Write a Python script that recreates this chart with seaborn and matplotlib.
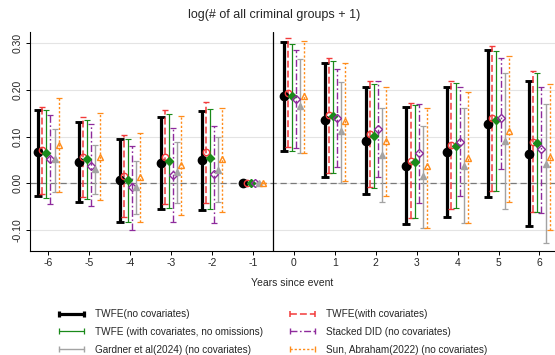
import numpy as np
import pandas as pd
import matplotlib
matplotlib.use("Agg")
import matplotlib.pyplot as plt
import seaborn as sns
from matplotlib.lines import Line2D

years = [-6, -5, -4, -3, -2, -1, 0, 1, 2, 3, 4, 5, 6]
xtick_labels = ["-6", "-5", "-4", "-3", "-2", "-1", "0", "1", "2", "3", "4", "5", "6"]
yticks = [-0.10, 0.00, 0.10, 0.20, 0.30]

series_names = [
    "TWFE(no covariates)",
    "TWFE(with covariates)",
    "TWFE (with covariates, no omissions)",
    "Stacked DID (no covariates)",
    "Gardner et al(2024) (no covariates)",
    "Sun, Abraham(2022) (no covariates)",
]

twfe_est = [0.066, 0.045, 0.006, 0.043, 0.050, 0.0, 0.187, 0.136, 0.091, 0.038, 0.066, 0.127, 0.063]
twfe_lo = [-0.027, -0.041, -0.082, -0.056, -0.057, 0.0, 0.070, 0.013, -0.023, -0.087, -0.073, -0.029, -0.092]
twfe_hi = [0.157, 0.131, 0.094, 0.141, 0.155, 0.0, 0.303, 0.257, 0.207, 0.163, 0.206, 0.286, 0.218]

twfec_est = [0.071, 0.057, 0.016, 0.056, 0.066, 0.0, 0.194, 0.146, 0.105, 0.048, 0.082, 0.139, 0.089]
twfec_lo = [-0.024, -0.029, -0.073, -0.045, -0.043, 0.0, 0.077, 0.021, -0.009, -0.075, -0.055, -0.016, -0.062]
twfec_hi = [0.164, 0.142, 0.103, 0.157, 0.175, 0.0, 0.311, 0.269, 0.218, 0.171, 0.218, 0.293, 0.241]

twfeno_est = [0.064, 0.051, 0.007, 0.048, 0.054, 0.0, 0.186, 0.143, 0.101, 0.046, 0.080, 0.136, 0.087]
twfeno_lo = [-0.031, -0.034, -0.082, -0.054, -0.055, 0.0, 0.070, 0.023, -0.011, -0.074, -0.054, -0.016, -0.062]
twfeno_hi = [0.157, 0.136, 0.094, 0.148, 0.160, 0.0, 0.298, 0.261, 0.212, 0.168, 0.214, 0.284, 0.236]

stack_est = [0.051, 0.038, -0.009, 0.018, 0.019, 0.0, 0.181, 0.139, 0.116, 0.064, 0.088, 0.139, 0.073]
stack_lo = [-0.044, -0.049, -0.100, -0.082, -0.086, 0.0, 0.075, 0.034, 0.014, -0.043, -0.027, 0.030, -0.063]
stack_hi = [0.146, 0.127, 0.080, 0.119, 0.123, 0.0, 0.286, 0.244, 0.218, 0.170, 0.206, 0.268, 0.207]

gard_est = [0.051, 0.030, -0.008, 0.025, 0.029, 0.0, 0.166, 0.111, 0.061, 0.016, 0.038, 0.091, 0.041]
gard_lo = [-0.018, -0.024, -0.066, -0.043, -0.041, 0.0, 0.064, 0.001, -0.041, -0.096, -0.086, -0.055, -0.127]
gard_hi = [0.116, 0.081, 0.048, 0.089, 0.098, 0.0, 0.266, 0.216, 0.162, 0.123, 0.162, 0.236, 0.170]

sun_est = [0.083, 0.057, 0.013, 0.039, 0.051, 0.0, 0.186, 0.134, 0.091, 0.036, 0.055, 0.112, 0.056]
sun_lo = [-0.018, -0.036, -0.084, -0.068, -0.062, 0.0, 0.064, 0.005, -0.027, -0.096, -0.086, -0.041, -0.101]
sun_hi = [0.182, 0.151, 0.107, 0.144, 0.162, 0.0, 0.305, 0.257, 0.207, 0.162, 0.195, 0.273, 0.213]

est_all = [twfe_est, twfec_est, twfeno_est, stack_est, gard_est, sun_est]
lo_all = [twfe_lo, twfec_lo, twfeno_lo, stack_lo, gard_lo, sun_lo]
hi_all = [twfe_hi, twfec_hi, twfeno_hi, stack_hi, gard_hi, sun_hi]

rows = []
for name, e, l, h in zip(series_names, est_all, lo_all, hi_all):
    for yr, ev, lv, hv in zip(years, e, l, h):
        rows.append(dict(series=name, year=yr, est=ev, lo=lv, hi=hv))
df = pd.DataFrame(rows)

styles = {
    series_names[0]: dict(color="black", ls="-", lw=2.3, marker="o", ms=6.0, filled=True, cap=2.8),
    series_names[1]: dict(color="#F23B3B", ls=(0, (4.5, 2.0)), lw=1.1, marker="o", ms=4.6, filled=False, cap=2.0),
    series_names[2]: dict(color="#1A8A1A", ls="-", lw=0.9, marker="D", ms=4.0, filled=True, cap=2.0),
    series_names[3]: dict(color="#8E2A9C", ls=(0, (5, 1.8, 1.2, 1.8)), lw=1.0, marker="D", ms=4.4, filled=False, cap=2.0),
    series_names[4]: dict(color="#A3A3A3", ls="-", lw=1.0, marker="^", ms=4.6, filled=True, cap=2.0),
    series_names[5]: dict(color="#FF8C1A", ls=(0, (1.6, 1.4)), lw=1.0, marker="^", ms=4.6, filled=False, cap=2.0),
}
offsets = dict(zip(series_names, [-0.25, -0.15, -0.05, 0.05, 0.15, 0.25]))

sns.set_theme(style="whitegrid")
plt.rcParams["font.family"] = ["Liberation Sans", "DejaVu Sans"]

fig = plt.figure(figsize=(5.55, 3.55), dpi=100)
ax = fig.add_axes([0.054, 0.293, 0.946, 0.617])

ax.axhline(0, color="#7A7A7A", lw=0.9, ls=(0, (5, 3)), zorder=1)
ax.axvline(-0.5, color="black", lw=0.9, zorder=1)

for name in series_names:
    st = styles[name]
    d = df[df.series == name]
    x = d.year.to_numpy() + offsets[name]
    yerr = np.vstack([d.est - d.lo, d.hi - d.est])
    eb = ax.errorbar(x, d.est, yerr=yerr, fmt="none", ecolor=st["color"],
                     elinewidth=st["lw"], capsize=st["cap"], capthick=st["lw"] * 0.9, zorder=2)
    for lc in eb[2]:
        lc.set_linestyle(st["ls"])
    ax.plot(x, d.est, ls="none", marker=st["marker"], ms=st["ms"],
            mfc=st["color"] if st["filled"] else "none", mec=st["color"],
            mew=1.0, zorder=3)

ax.set_xlim(-6.45, 6.38)
ax.set_ylim(-0.145, 0.324)
ax.set_xticks(years)
ax.set_xticklabels(xtick_labels)
ax.set_yticks(yticks)
ax.set_yticklabels([f"{v:.2f}" for v in yticks], rotation=90, va="center")
ax.tick_params(axis="both", labelsize=7.5, length=3, width=0.7, color="black", pad=2,
               bottom=True, left=True)
ax.grid(axis="x", visible=False)
ax.grid(axis="y", color="#E4E4E4", lw=0.8)
ax.set_facecolor("white")
sns.despine(ax=ax, top=True, right=True)
for sp in ["left", "bottom"]:
    ax.spines[sp].set_color("black")
    ax.spines[sp].set_linewidth(0.8)
ax.set_xlabel("Years since event", fontsize=7.5, labelpad=7)
ax.set_ylabel("")

fig.suptitle("log(# of all criminal groups + 1)", x=0.494, y=0.975, fontsize=9)

order = [0, 2, 4, 1, 3, 5]
handles = []
labels = []
for i in order:
    name = series_names[i]
    st = styles[name]
    handles.append(Line2D([], [], color=st["color"], ls=st["ls"], lw=st["lw"],
                          marker="|", ms=5, mew=st["lw"]))
    labels.append(name)
fig.legend(handles, labels, loc="upper center", bbox_to_anchor=(0.49, 0.152), ncol=2,
           frameon=False, fontsize=7.2, numpoints=2, handlelength=3.1,
           columnspacing=2.4, labelspacing=0.78, handletextpad=0.8, borderpad=0.3)

fig.savefig("out.png", dpi=100, facecolor="white")
